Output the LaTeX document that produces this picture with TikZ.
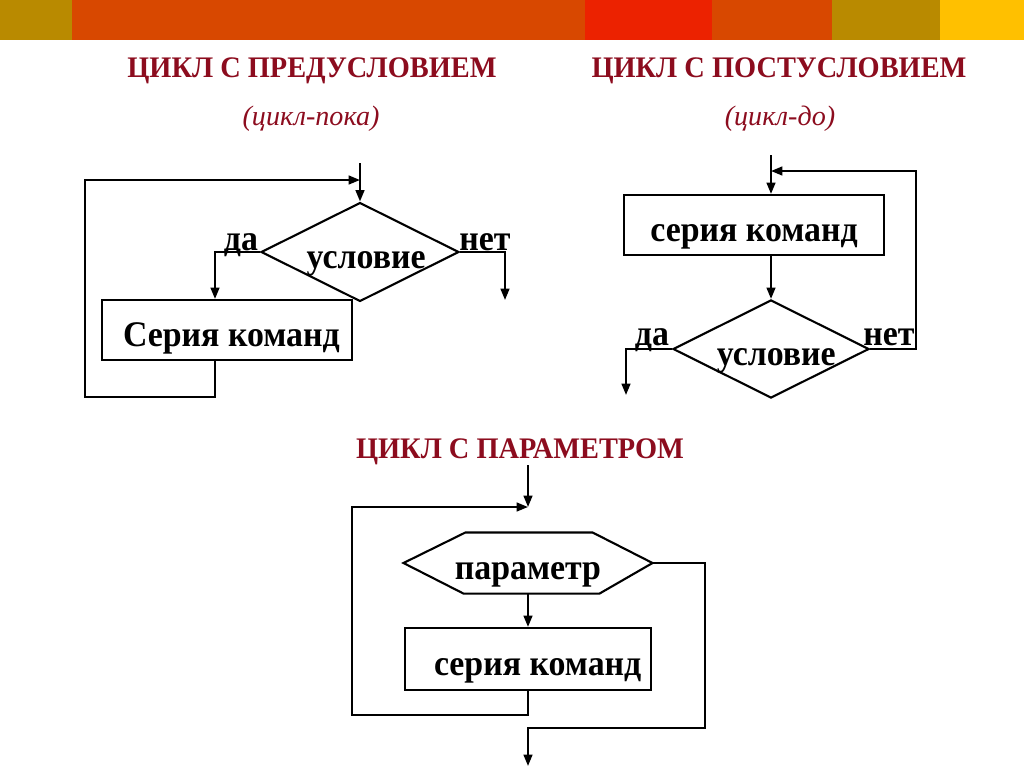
\documentclass[tikz,border=0pt]{standalone}
\usepackage{fontspec}
\setmainfont{Liberation Serif}
\newfontfamily\uzkij[FakeStretch=0.94]{Liberation Serif}
\newfontfamily\zagshrift[FakeStretch=0.95]{Liberation Serif}
\usepackage{xcolor}
\usetikzlibrary{shapes.geometric, arrows.meta, positioning, calc}
\definecolor{titlecolor}{RGB}{140,12,30}
\definecolor{barorange}{RGB}{216,72,0}
\definecolor{barred}{RGB}{236,34,0}
\definecolor{bargold}{RGB}{185,138,0}
\definecolor{baryellow}{RGB}{255,192,0}

\begin{document}
\begin{tikzpicture}[x=0.02cm, y=-0.02cm, line width=1.2pt,
    >={Triangle[length=6.5pt,width=5pt]},
    zagolovok/.style={anchor=base, font=\fontsize{17}{20}\selectfont\zagshrift\bfseries, text=titlecolor},
    podzagolovok/.style={anchor=base, font=\fontsize{16}{19}\selectfont\itshape, text=titlecolor},
    tekst/.style={inner sep=0pt, text height=19pt, text depth=0pt, font=\fontsize{20.5}{24}\selectfont\uzkij\bfseries},
    blok/.style={tekst, draw, rectangle},
    uslovie/.style={tekst, draw, diamond, aspect=2},
    metka/.style={anchor=base, font=\fontsize{20.5}{24}\selectfont\uzkij\bfseries}]
    \useasboundingbox (0,0) rectangle (1024,768);

    % top bar
    \fill[bargold] (0,0) rectangle (72,40);
    \fill[barorange] (72,0) rectangle (585,40);
    \fill[barred] (585,0) rectangle (712,40);
    \fill[barorange] (712,0) rectangle (832,40);
    \fill[bargold] (832,0) rectangle (940,40);
    \fill[baryellow] (940,0) rectangle (1024,40);

    % Titles
    \node[zagolovok] (zag1) at (312,77) {ЦИКЛ С ПРЕДУСЛОВИЕМ};
    \node[podzagolovok] (pod1) at (311,125) {(цикл-пока)};
    \node[zagolovok] (zag2) at (779,77) {ЦИКЛ С ПОСТУСЛОВИЕМ};
    \node[podzagolovok] (pod2) at (780,125) {(цикл-до)};
    \node[zagolovok] (zag3) at (520,458) {ЦИКЛ С ПАРАМЕТРОМ};

    % while loop
    \node[uslovie, minimum width=3.88cm, minimum height=1.92cm] (uslovie1) at (360,252) {\hspace*{7pt}условие};
    \node[blok, minimum width=5cm, minimum height=1.2cm] (seria1) at (227,330) {\hspace*{5pt}Серия команд};
    \coordinate (vhod1) at (360,163);
    \coordinate (vozvrat1) at (360,180);
    \coordinate (da1) at (215,252);
    \coordinate (vyhod1) at (505,300);
    \draw[->] (vhod1) -- (uslovie1.north);
    \draw[->] (uslovie1.west) -- (da1) -- (da1 |- seria1.north);
    \draw[->] (uslovie1.east) -| (vyhod1);
    \draw[->] (da1 |- seria1.south) |- (85,397) |- (vozvrat1);
    \node[metka] (da1t) at (241,250) {да};
    \node[metka] (net1t) at (485,250) {нет};

    % do loop
    \node[blok, minimum width=5.2cm, minimum height=1.2cm] (seria2) at (754,225) {серия команд};
    \node[uslovie, minimum width=3.82cm, minimum height=1.94cm] (uslovie2) at (771,349) {\hspace*{6pt}условие};
    \coordinate (vhod2) at (771,155);
    \coordinate (vozvrat2) at (771,171);
    \coordinate (vyhod2) at (626,395);
    \draw[->] (vhod2) -- (vhod2 |- seria2.north);
    \draw[->] (vhod2 |- seria2.south) -- (uslovie2.north);
    \draw[->] (uslovie2.east) -| (916,171) -- (vozvrat2);
    \draw[->] (uslovie2.west) -| (vyhod2);
    \node[metka] (da2t) at (652,345) {да};
    \node[metka] (net2t) at (889,345) {нет};

    % for loop
    \node[tekst, minimum width=4.94cm, minimum height=1.18cm] (parametr) at (528,563) {параметр};
    \draw (parametr.west) -- ($(parametr.north west)+(62,0)$) -- ($(parametr.north east)+(-60,0)$)
        -- (parametr.east) -- ($(parametr.south east)+(-53,0)$) -- ($(parametr.south west)+(60,0)$) -- cycle;
    \node[blok, minimum width=4.92cm, minimum height=1.24cm] (seria3) at (528,659) {\hspace*{11pt}серия команд};
    \coordinate (vhod3) at (528,465);
    \coordinate (vozvrat3) at (528,507);
    \coordinate (vyhod3) at (528,766);
    \draw[->] (vhod3) -- (vozvrat3);
    \draw[->] (parametr.south) -- (seria3.north);
    \draw[->] (seria3.south) |- (352,715) |- (vozvrat3);
    \draw[->] (parametr.east) -| (705,728) -| (vyhod3);
\end{tikzpicture}
\end{document}
